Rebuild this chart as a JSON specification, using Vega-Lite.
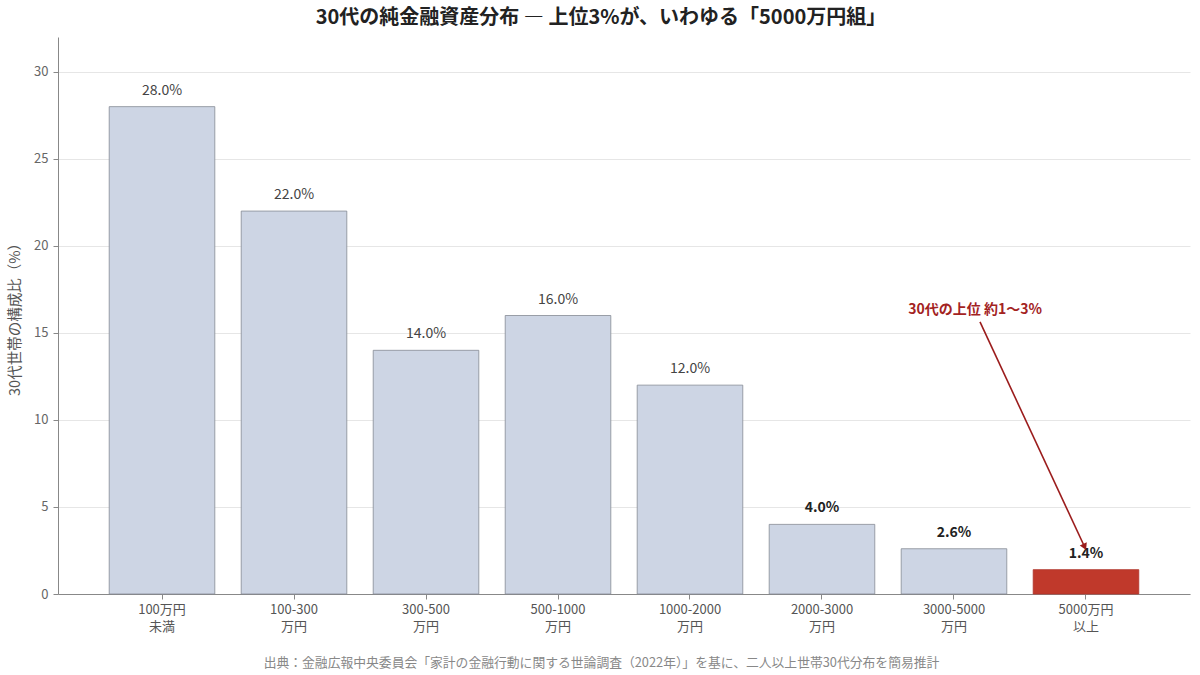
{
  "$schema": "https://vega.github.io/schema/vega-lite/v6.json",
  "width": 1132,
  "height": 557,
  "autosize": {"type": "none"},
  "padding": {"left": 58, "top": 37, "right": 10, "bottom": 81},
  "background": "white",
  "config": {"font": "Noto Sans CJK JP", "view": {"stroke": null}},
  "title": {
    "text": "30代の純金融資産分布 ― 上位3%が、いわゆる「5000万円組」",
    "fontSize": 20,
    "fontWeight": "bold",
    "color": "#222222",
    "anchor": "middle",
    "dx": -23,
    "offset": 9
  },
  "resolve": {"scale": {"x": "independent"}},
  "layer": [
    {
      "data": {
        "values": [
          {"range": "100万円|未満", "pct": 28.0, "label": "28.0%"},
          {"range": "100-300|万円", "pct": 22.0, "label": "22.0%"},
          {"range": "300-500|万円", "pct": 14.0, "label": "14.0%"},
          {"range": "500-1000|万円", "pct": 16.0, "label": "16.0%"},
          {"range": "1000-2000|万円", "pct": 12.0, "label": "12.0%"},
          {"range": "2000-3000|万円", "pct": 4.0, "label": "4.0%"},
          {"range": "3000-5000|万円", "pct": 2.6, "label": "2.6%"},
          {"range": "5000万円|以上", "pct": 1.4, "label": "1.4%"}
        ]
      },
      "encoding": {
        "x": {
          "field": "range",
          "type": "nominal",
          "sort": null,
          "scale": {"paddingInner": 0.2, "paddingOuter": 0.388},
          "axis": {
            "labelAngle": 0,
            "labelExpr": "split(datum.value, '|')",
            "labelFontSize": 13,
            "labelColor": "#555555",
            "labelLineHeight": 17,
            "labelPadding": 4,
            "tickSize": 5,
            "tickColor": "#888888",
            "domainColor": "#888888",
            "title": "出典：金融広報中央委員会「家計の金融行動に関する世論調査（2022年）」を基に、二人以上世帯30代分布を簡易推計",
            "titleFontSize": 12.8,
            "titleFontWeight": "normal",
            "titleColor": "#888888",
            "titleX": 543,
            "titleY": 68,
            "titleAlign": "center",
            "titleBaseline": "middle"
          }
        },
        "y": {
          "field": "pct",
          "type": "quantitative",
          "scale": {"domain": [0, 32], "nice": false},
          "axis": {
            "values": [0, 5, 10, 15, 20, 25, 30],
            "title": "30代世帯の構成比（%）",
            "titleFontSize": 14.5,
            "titleFontWeight": "normal",
            "titleColor": "#555555",
            "titlePadding": 11,
            "labelFontSize": 13,
            "labelColor": "#666666",
            "labelPadding": 5,
            "tickSize": 5,
            "tickColor": "#888888",
            "domainColor": "#888888",
            "gridColor": "#e6e6e6"
          }
        }
      },
      "layer": [
        {
          "mark": {"type": "bar", "strokeWidth": 0.8},
          "encoding": {
            "color": {
              "condition": {"test": "datum.range == '5000万円|以上'", "value": "#c0392b"},
              "value": "#cdd5e4"
            },
            "stroke": {
              "condition": {"test": "datum.range == '5000万円|以上'", "value": "#b03428"},
              "value": "#858a94"
            }
          }
        },
        {
          "transform": [{"filter": "datum.pct >= 10"}],
          "mark": {"type": "text", "dy": -16, "fontSize": 14, "color": "#444444"},
          "encoding": {"text": {"field": "label"}}
        },
        {
          "transform": [{"filter": "datum.pct < 10"}],
          "mark": {"type": "text", "dy": -16, "fontSize": 14, "fontWeight": "bold", "color": "#222222"},
          "encoding": {"text": {"field": "label"}}
        }
      ]
    },
    {
      "data": {
        "values": [
          {"x": 6.16, "y": 16.3, "x2": 6.99, "y2": 2.7, "xs": 6.197, "ys": 15.63, "t": "30代の上位 約1〜3%"}
        ]
      },
      "layer": [
        {
          "mark": {"type": "text", "fontSize": 14, "fontWeight": "bold", "color": "#a3231f"},
          "encoding": {
            "x": {"field": "x", "type": "quantitative", "scale": {"domain": [-0.788, 7.788], "nice": false, "zero": false}, "axis": null},
            "y": {"field": "y", "type": "quantitative"},
            "text": {"field": "t"}
          }
        },
        {
          "mark": {"type": "rule", "color": "#9b1c1c", "strokeWidth": 1.6},
          "encoding": {
            "x": {"field": "xs", "type": "quantitative", "scale": {"domain": [-0.788, 7.788], "nice": false, "zero": false}, "axis": null},
            "y": {"field": "ys", "type": "quantitative"},
            "x2": {"field": "x2"},
            "y2": {"field": "y2"}
          }
        },
        {
          "mark": {"type": "point", "shape": "triangle-up", "filled": true, "color": "#9b1c1c", "size": 60, "angle": 155, "opacity": 1},
          "encoding": {
            "x": {"field": "x2", "type": "quantitative", "scale": {"domain": [-0.788, 7.788], "nice": false, "zero": false}, "axis": null},
            "y": {"field": "y2", "type": "quantitative"}
          }
        }
      ]
    }
  ]
}
